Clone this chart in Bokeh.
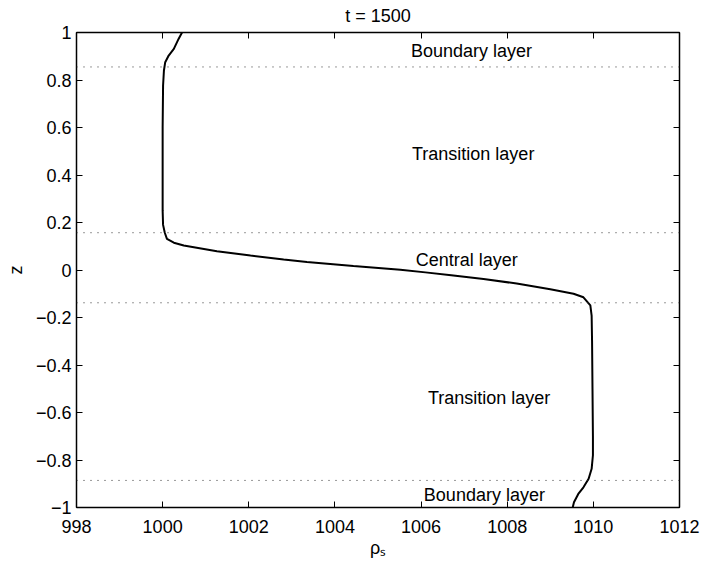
from bokeh.plotting import figure
from bokeh.models import (ColumnDataSource, LinearAxis, FixedTicker, CustomJSTickFormatter,
                          Span, Title, Range1d)
from bokeh.core.properties import value
from bokeh.embed import file_html
from bokeh.resources import INLINE

# Density profile rho_s(z) at t = 1500
rho_s = [1000.45, 1000.37, 1000.26, 1000.14, 1000.06, 1000.03, 1000.01, 1000.0, 1000.0, 1000.0,
         1000.01, 1000.05, 1000.10, 1000.26, 1000.49, 1001.26, 1002.04, 1002.81, 1003.35, 1004.43,
         1005.52, 1006.1, 1006.7, 1007.45, 1008.22, 1009.0, 1009.54, 1009.77, 1009.93, 1009.96,
         1009.97, 1009.98, 1009.99, 1009.99, 1009.96, 1009.89, 1009.77, 1009.65, 1009.55, 1009.52]
z = [1.0, 0.973, 0.931, 0.903, 0.875, 0.84, 0.777, 0.6, 0.4, 0.25,
     0.19, 0.157, 0.131, 0.115, 0.103, 0.079, 0.061, 0.044, 0.034, 0.017,
     0.001, -0.010, -0.022, -0.038, -0.057, -0.081, -0.10, -0.115, -0.149, -0.192,
     -0.3, -0.5, -0.7, -0.78, -0.837, -0.879, -0.915, -0.943, -0.978, -1.0]

# Layer boundaries and layer names
boundaries_z = [0.855, 0.157, -0.138, -0.886]
layer_names = ["Boundary layer", "Transition layer", "Central layer", "Transition layer", "Boundary layer"]
layer_x = [1007.17, 1007.21, 1007.06, 1007.58, 1007.47]
layer_z = [0.924, 0.49, 0.043, -0.541, -0.949]

x_ticks = [998, 1000, 1002, 1004, 1006, 1008, 1010, 1012]
z_ticks = [-1.0, -0.8, -0.6, -0.4, -0.2, 0.0, 0.2, 0.4, 0.6, 0.8, 1.0]

FONT = "Liberation Sans"
FS = "18px"

p = figure(width=701, height=565, output_backend="svg", toolbar_location=None,
           x_range=Range1d(998, 1012), y_range=Range1d(-1, 1),
           min_border_left=76, min_border_right=22, min_border_top=32, min_border_bottom=58,
           x_axis_type=None, y_axis_type=None)
p.grid.visible = False
p.outline_line_color = "black"
p.outline_line_width = 1
p.background_fill_color = "white"
p.border_fill_color = "white"

p.title.text = "t = 1500"
p.title.align = "center"
p.title.vertical_align = "top"
p.title.text_font = FONT
p.title.text_font_size = FS
p.title.text_font_style = "normal"
p.title.text_color = "black"
p.title.standoff = 9

num_fmt = CustomJSTickFormatter(code="""
    const a = Math.abs(tick);
    const s = a < 1e-9 ? '0' : String(parseFloat(a.toFixed(1)));
    return tick < -1e-9 ? '\\u2212' + s : s;
""")
blank_fmt = CustomJSTickFormatter(code="return '';")


def style_axis(ax, show_labels):
    ax.major_tick_in = 6
    ax.major_tick_out = 0
    ax.minor_tick_line_color = None
    ax.axis_line_color = "black"
    ax.axis_line_width = 1.5
    ax.major_tick_line_color = "black"
    ax.major_tick_line_width = 1
    ax.major_label_text_font = FONT
    ax.major_label_text_color = "black"
    if show_labels:
        ax.major_label_text_font_size = FS
    else:
        ax.major_label_text_font_size = "0px"
        ax.major_label_standoff = 0


xb = LinearAxis(ticker=FixedTicker(ticks=x_ticks), formatter=num_fmt, axis_label="ρₛ")
style_axis(xb, True)
xb.major_label_standoff = 12
xb.axis_label_text_font = FONT
xb.axis_label_text_font_size = FS
xb.axis_label_text_font_style = "normal"
xb.axis_label_text_color = "black"
xb.axis_label_standoff = 2
p.add_layout(xb, "below")

yl = LinearAxis(ticker=FixedTicker(ticks=z_ticks), formatter=num_fmt)
style_axis(yl, True)
yl.major_label_standoff = 5
p.add_layout(yl, "left")

xt = LinearAxis(ticker=FixedTicker(ticks=x_ticks), formatter=blank_fmt)
style_axis(xt, False)
p.add_layout(xt, "above")

yr = LinearAxis(ticker=FixedTicker(ticks=z_ticks), formatter=blank_fmt)
style_axis(yr, False)
p.add_layout(yr, "right")

# y-axis label as a side title, rotated, left of the tick labels
p.add_layout(Title(text="z", align="center", vertical_align="top", text_font=FONT,
                   text_font_size=FS, text_font_style="normal", text_color="black",
                   standoff=10), "left")

# Dotted layer boundaries
for zb in boundaries_z:
    p.add_layout(Span(location=zb, dimension="width", line_color="#333333",
                      line_width=1, line_dash="1 6"))

# Profile curve
src = ColumnDataSource(data=dict(rho=rho_s, z=z))
p.line("rho", "z", source=src, line_color="black", line_width=2)

# Layer names
lab = ColumnDataSource(data=dict(x=layer_x, y=layer_z, t=layer_names))
p.text("x", "y", text="t", source=lab, text_font=value(FONT), text_font_size=FS,
       text_align="center", text_baseline="middle", text_color="black")

open("out.html", "w", encoding="utf-8").write(file_html(p, INLINE))
